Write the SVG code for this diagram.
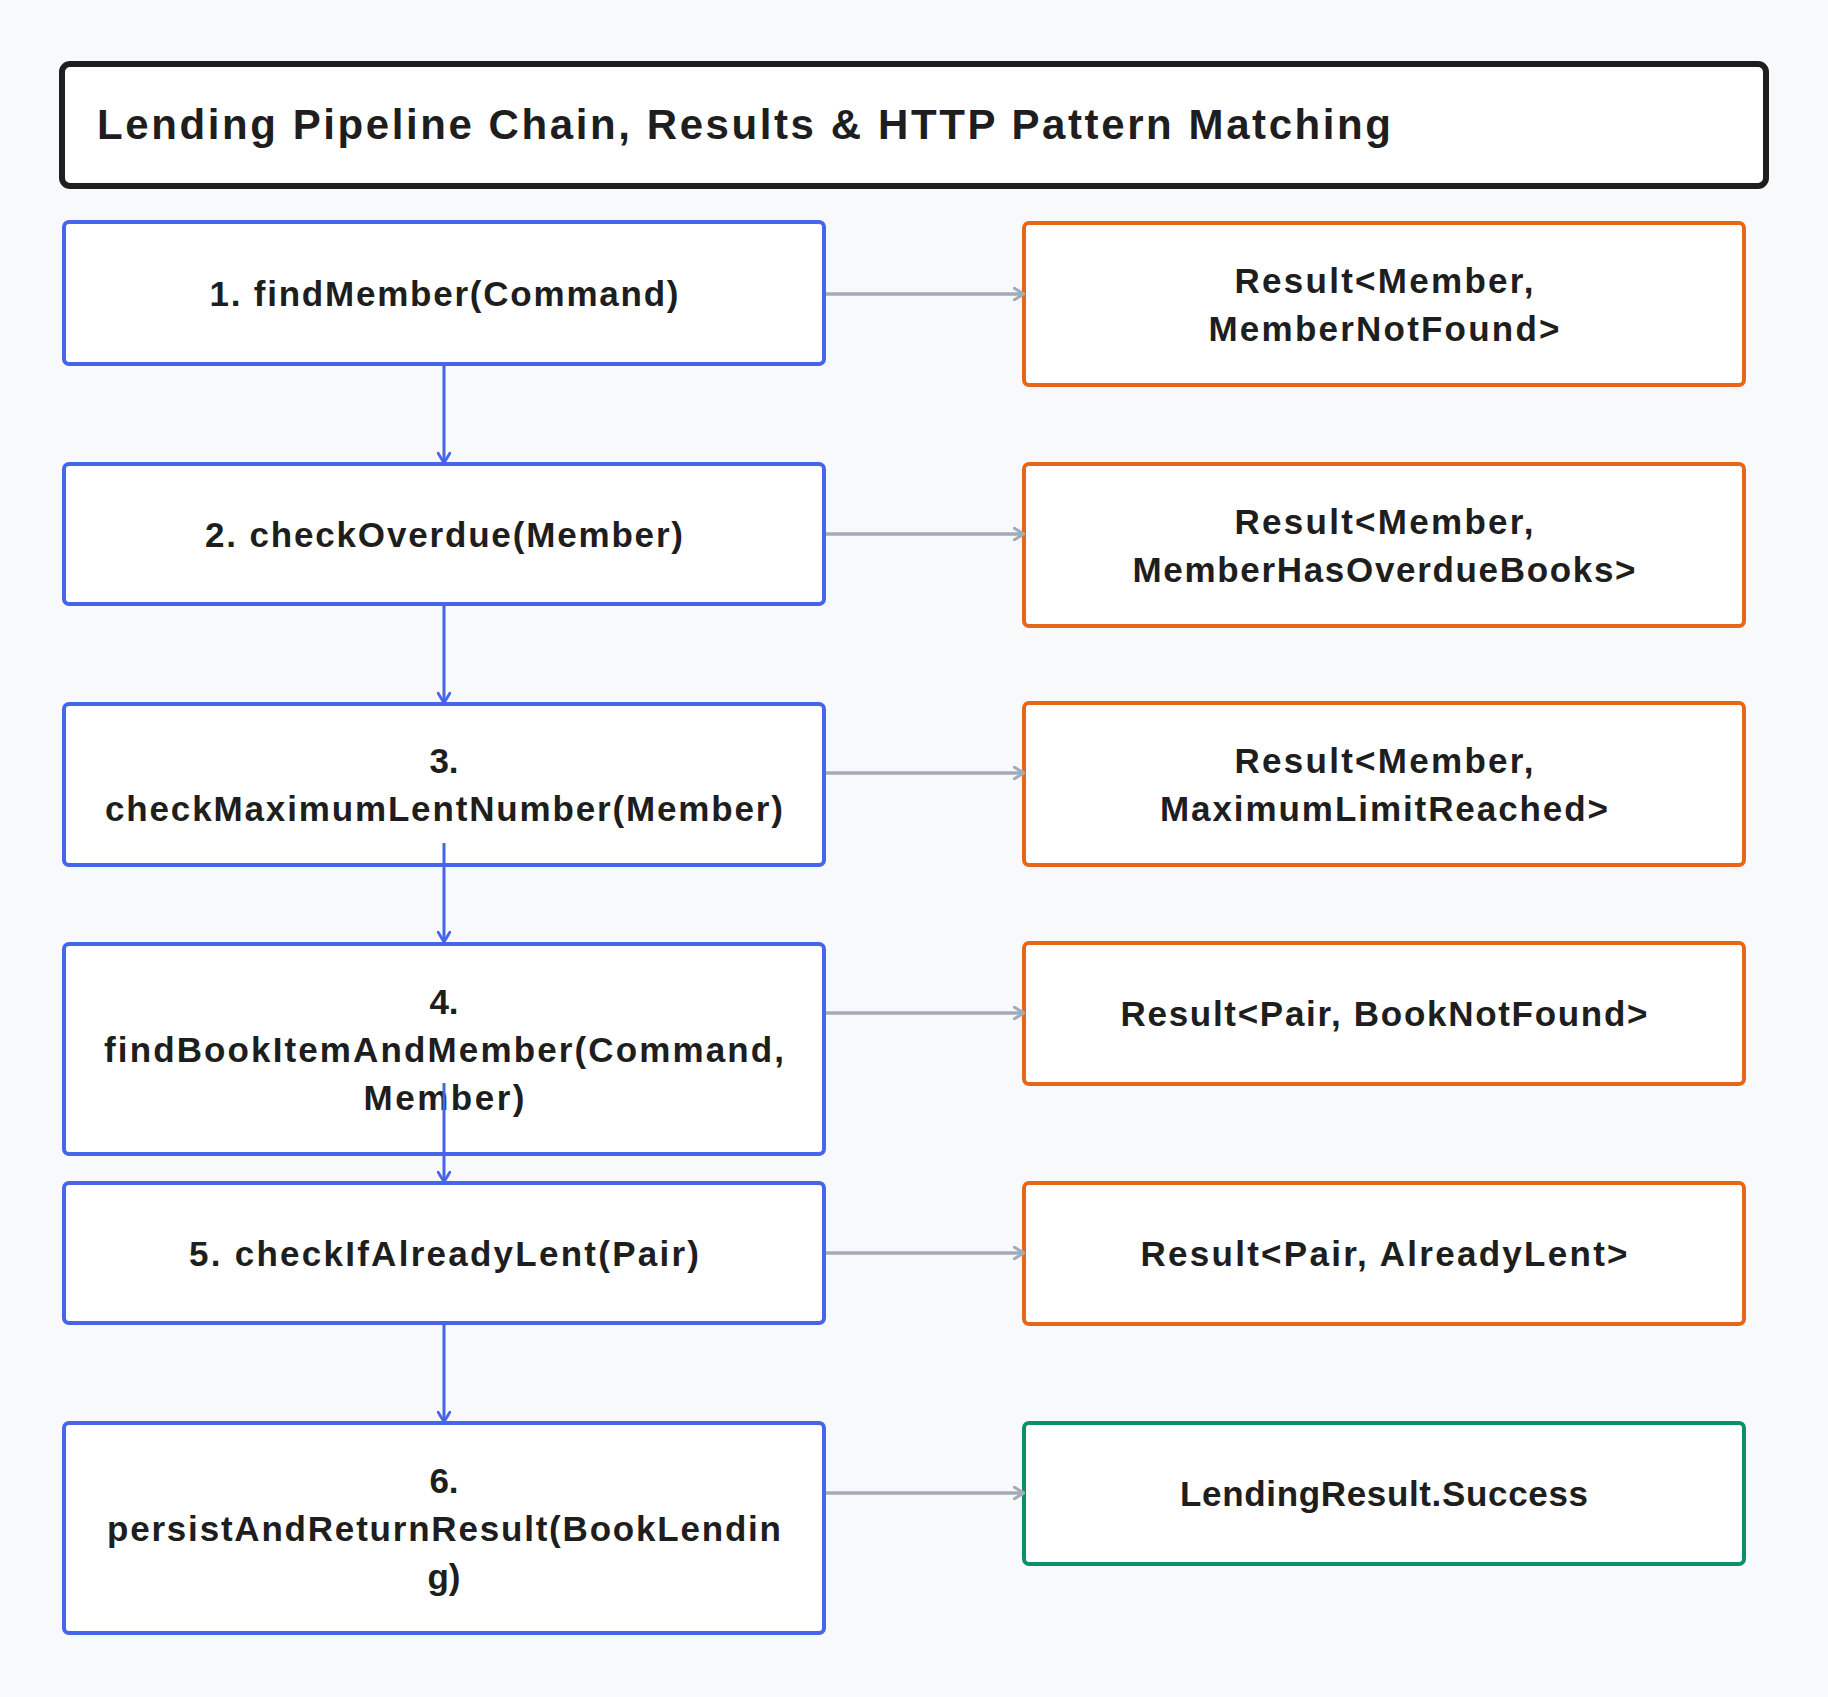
<svg xmlns="http://www.w3.org/2000/svg" width="1828" height="1697" viewBox="0 0 1828 1697">
<defs>
<style>
.bg{fill:#f8f9fb}
.title{fill:#ffffff;stroke:#1e1e1e;stroke-width:6}
.step{fill:#ffffff;stroke:#4765e8;stroke-width:4}
.err{fill:#ffffff;stroke:#e6671a;stroke-width:4}
.ok{fill:#ffffff;stroke:#0c9068;stroke-width:4}
text{font-family:"Liberation Sans",Arial,sans-serif;fill:#1e1e1e;font-weight:bold}
.t{font-size:35px;text-anchor:middle}
.tt{font-size:42px}
.flow{stroke:#4765e8;stroke-width:3;fill:none}
.res{stroke:#a3abb6;stroke-width:3.5;fill:none}
</style>
<marker id="ab" viewBox="0 0 12 14" refX="11" refY="7" markerWidth="12" markerHeight="14" markerUnits="userSpaceOnUse" orient="auto">
<path d="M1,1 L11,7 L1,13" fill="none" stroke="#4765e8" stroke-width="2.8" stroke-linecap="round" stroke-linejoin="round"/>
</marker>
<marker id="ag" viewBox="0 0 12 14" refX="11" refY="7" markerWidth="12" markerHeight="14" markerUnits="userSpaceOnUse" orient="auto">
<path d="M1,1 L11,7 L1,13" fill="none" stroke="#a3abb6" stroke-width="3" stroke-linecap="round" stroke-linejoin="round"/>
</marker>
</defs>
<rect class="bg" x="0" y="0" width="1828" height="1697"/>

<g id="title">
<rect class="title" x="62" y="64" width="1704" height="122" rx="8"/>
<text class="tt" x="97" y="139" textLength="1294">Lending Pipeline Chain, Results &amp; HTTP Pattern Matching</text>
</g>

<g id="step1">
<rect class="step" x="64" y="222" width="760" height="142" rx="5"/>
<text class="t" x="444" y="306" textLength="469">1. findMember(Command)</text>
</g>
<g id="step2">
<rect class="step" x="64" y="464" width="760" height="140" rx="5"/>
<text class="t" x="444" y="547" textLength="478">2. checkOverdue(Member)</text>
</g>
<g id="step3">
<rect class="step" x="64" y="704" width="760" height="161" rx="5"/>
<text class="t" x="444" y="773">3.</text>
<text class="t" x="444" y="821" textLength="678">checkMaximumLentNumber(Member)</text>
</g>
<g id="step4">
<rect class="step" x="64" y="944" width="760" height="210" rx="5"/>
<text class="t" x="444" y="1014">4.</text>
<text class="t" x="444" y="1062" textLength="680">findBookItemAndMember(Command,</text>
<text class="t" x="444" y="1110" textLength="161">Member)</text>
</g>
<g id="step5">
<rect class="step" x="64" y="1183" width="760" height="140" rx="5"/>
<text class="t" x="444" y="1266" textLength="510">5. checkIfAlreadyLent(Pair)</text>
</g>
<g id="step6">
<rect class="step" x="64" y="1423" width="760" height="210" rx="5"/>
<text class="t" x="444" y="1493">6.</text>
<text class="t" x="444" y="1541" textLength="674">persistAndReturnResult(BookLendin</text>
<text class="t" x="444" y="1589">g)</text>
</g>

<g id="result1">
<rect class="err" x="1024" y="223" width="720" height="162" rx="5"/>
<text class="t" x="1384" y="293" textLength="299">Result&lt;Member,</text>
<text class="t" x="1384" y="341" textLength="351">MemberNotFound&gt;</text>
</g>
<g id="result2">
<rect class="err" x="1024" y="464" width="720" height="162" rx="5"/>
<text class="t" x="1384" y="534" textLength="299">Result&lt;Member,</text>
<text class="t" x="1384" y="582" textLength="503">MemberHasOverdueBooks&gt;</text>
</g>
<g id="result3">
<rect class="err" x="1024" y="703" width="720" height="162" rx="5"/>
<text class="t" x="1384" y="773" textLength="299">Result&lt;Member,</text>
<text class="t" x="1384" y="821" textLength="448">MaximumLimitReached&gt;</text>
</g>
<g id="result4">
<rect class="err" x="1024" y="943" width="720" height="141" rx="5"/>
<text class="t" x="1384" y="1026" textLength="527">Result&lt;Pair, BookNotFound&gt;</text>
</g>
<g id="result5">
<rect class="err" x="1024" y="1183" width="720" height="141" rx="5"/>
<text class="t" x="1384" y="1266" textLength="487">Result&lt;Pair, AlreadyLent&gt;</text>
</g>
<g id="result6">
<rect class="ok" x="1024" y="1423" width="720" height="141" rx="5"/>
<text class="t" x="1384" y="1506" textLength="408">LendingResult.Success</text>
</g>

<g id="connectors">
<line class="flow" x1="444" y1="366" x2="444" y2="463" marker-end="url(#ab)"/>
<line class="flow" x1="444" y1="606" x2="444" y2="703" marker-end="url(#ab)"/>
<line class="flow" x1="444" y1="843" x2="444" y2="942" marker-end="url(#ab)"/>
<line class="flow" x1="444" y1="1083" x2="444" y2="1182" marker-end="url(#ab)"/>
<line class="flow" x1="444" y1="1325" x2="444" y2="1422" marker-end="url(#ab)"/>
<line class="res" x1="826" y1="294" x2="1024" y2="294" marker-end="url(#ag)"/>
<line class="res" x1="826" y1="534" x2="1024" y2="534" marker-end="url(#ag)"/>
<line class="res" x1="826" y1="773" x2="1024" y2="773" marker-end="url(#ag)"/>
<line class="res" x1="826" y1="1013" x2="1024" y2="1013" marker-end="url(#ag)"/>
<line class="res" x1="826" y1="1253" x2="1024" y2="1253" marker-end="url(#ag)"/>
<line class="res" x1="826" y1="1493" x2="1024" y2="1493" marker-end="url(#ag)"/>
</g>
</svg>
